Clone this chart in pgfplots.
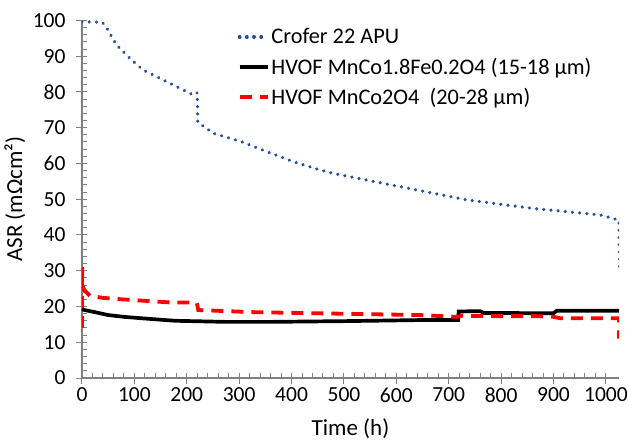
\documentclass[border=0pt]{standalone}
\usepackage{fontspec}
\setmainfont{Carlito}
\usepackage{pgfplots}
\pgfplotsset{compat=1.18}
\definecolor{croferblue}{RGB}{38,78,150}
\definecolor{axisgray}{RGB}{128,128,128}
\begin{document}
\begin{tikzpicture}
% page = 629 x 445 bp, axis origin at (82,378) from the top left
\useasboundingbox (-82bp,-67bp) rectangle (547bp,378bp);
\begin{axis}[
  at={(0,0)}, anchor=south west,
  scale only axis, width=537bp, height=357.6bp,
  xmin=0, xmax=1025, ymin=0, ymax=100,
  axis x line=bottom, axis y line=left,
  axis line style={axisgray, line width=1.2bp, -},
  xtick={0,100,...,1000}, ytick={0,10,...,100},
  minor x tick num=4, minor y tick num=4,
  tick style={axisgray, line width=1bp},
  tick align=inside,
  major tick length=11bp, minor tick length=5bp,
  major x tick style={yshift=-5.5bp},
  major y tick style={xshift=-5.5bp},
  /pgf/number format/assume math mode=true,
  /pgf/number format/1000 sep={},
  ticklabel style={font=\fontsize{21.5bp}{26bp}\selectfont},
  xticklabel style={yshift=-6bp},
  yticklabel style={xshift=-13bp},
  xlabel={Time (h)}, ylabel={ASR (mΩcm²)},
  label style={font=\fontsize{23bp}{28bp}\selectfont},
  xlabel style={at={(axis description cs:0.5,-0.160)}, anchor=base},
  ylabel style={at={(axis description cs:-0.125,0.5)}, anchor=center},
  legend style={draw=none, fill=none, at={(0.284,0.989)}, anchor=north west,
    font=\fontsize{22.3bp}{27bp}\selectfont, row sep=8.5bp},
  legend cell align=left,
  legend image code/.code={\path (0bp,0bp) -- (28bp,0bp);\draw[#1] (0bp,0bp) -- (26bp,0bp);},
]
\addplot[croferblue, line width=3.5bp, line cap=round, dash pattern=on 0.01bp off 7.2bp] coordinates {
(0,99.6)(38,99.5)(45,98.5)(53,96.4)(66,93.1)(85,90.3)(98,88.5)(117,86.1)(149,83.8)
(187,81.0)(213,79.1)(218,79.5)(220,79.8)(221,71.5)(251,68.4)(302,66.2)(353,63.3)
(403,60.5)(454,58.2)(480,57.2)(607,53.5)(735,49.8)(862,47.4)(989,45.6)(1021,44.3)
(1025,44.2)(1026,31)
};
\addlegendentry{Crofer 22 APU}
\addplot[black, line width=3.7bp] coordinates {
(0,19.2)(5,19.0)(25,18.4)(50,17.6)(80,17.1)(114,16.7)(150,16.3)(178,16.0)(273,15.7)
(362,15.7)(500,15.9)(645,16.2)(718,16.2)(719,18.6)(760,18.7)(766,18.2)(900,18.1)
(906,18.8)(1026,18.8)
};
\addlegendentry{HVOF MnCo1.8Fe0.2O4 (15-18 µm)}
\addplot[red, line width=3.8bp, dash pattern=on 12bp off 8bp,
  legend image code/.code={\path (0bp,0bp) -- (28bp,0bp);\draw[red, line width=3.8bp] (0bp,0bp) -- (13bp,0bp);}] coordinates {
(0,14)(0,31)(1,26)(4,24.6)(15,23.0)(40,22.4)(76,22.0)(171,21.1)(219,21.1)(222,19.0)
(330,18.4)(448,18.1)(645,17.6)(715,17.1)(725,17.4)(772,17.3)(868,17.3)(900,17.1)
(913,16.7)(1025,16.7)(1025,11)
};
\addlegendentry{HVOF MnCo2O4\ \ (20-28 µm)}
\end{axis}
\end{tikzpicture}
\end{document}
